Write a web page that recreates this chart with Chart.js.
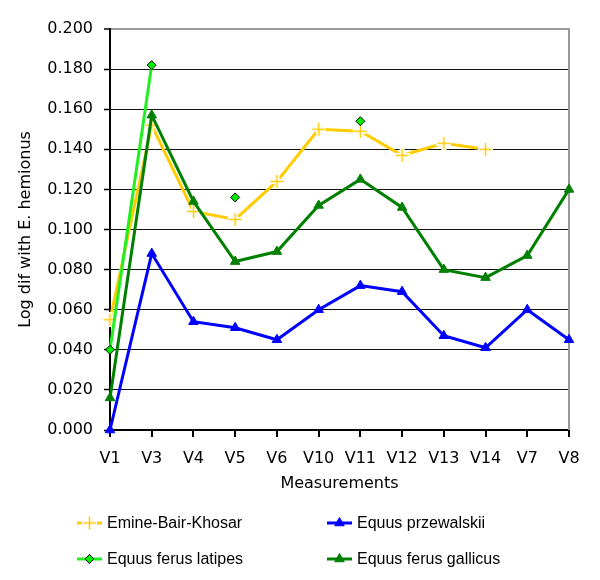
<!DOCTYPE html>
<html>
<head>
<meta charset="utf-8">
<script src="https://cdn.jsdelivr.net/npm/chart.js@4/dist/chart.umd.min.js"></script>
<style>
  body { margin: 0; background: #fff; }
  canvas { display: block; }
</style>
</head>
<body>
<canvas id="myChart" width="600" height="580"></canvas>
<script>
// values
const categories = ['V1', 'V3', 'V4', 'V5', 'V6', 'V10', 'V11', 'V12', 'V13', 'V14', 'V7', 'V8'];
const emine = [0.055, 0.152, 0.109, 0.105, 0.124, 0.150, 0.149, 0.137, 0.143, 0.140, null, null];
const przewalskii = [0.000, 0.088, 0.054, 0.051, 0.045, 0.060, 0.072, 0.069, 0.047, 0.041, 0.060, 0.045];
const latipes = [0.040, 0.182, null, 0.116, null, null, 0.154, null, null, null, null, null];
const gallicus = [0.016, 0.157, 0.114, 0.084, 0.089, 0.112, 0.125, 0.111, 0.080, 0.076, 0.087, 0.120];
const seriesNames = ['Emine-Bair-Khosar', 'Equus przewalskii', 'Equus ferus latipes', 'Equus ferus gallicus'];

const YELLOW = '#ffcc00', BLUE = '#0000ff', LIME = '#22ee22', DARK = '#008000';

// yellow "+" marker with a white halo, like the original
function crossMarker(color) {
    const c = document.createElement('canvas');
    c.width = 15; c.height = 15;
    const g = c.getContext('2d');
    g.fillStyle = '#fff';
    g.fillRect(5, 0, 5, 15);
    g.fillRect(0, 5, 15, 5);
    g.strokeStyle = color;
    g.lineWidth = 1.5;
    g.beginPath();
    g.moveTo(7.5, 1); g.lineTo(7.5, 14);
    g.moveTo(1, 7.5); g.lineTo(14, 7.5);
    g.stroke();
    return c;
}
const cross = crossMarker(YELLOW);

Chart.defaults.font.family = 'DejaVu Sans';
Chart.defaults.font.size = 16;
Chart.defaults.color = '#000';

const datasets = [
    {label: seriesNames[0], data: emine, borderColor: YELLOW, backgroundColor: YELLOW,
     pointStyle: cross, pointRadius: 7, order: 3},
    {label: seriesNames[1], data: przewalskii, borderColor: BLUE, backgroundColor: BLUE,
     pointStyle: 'triangle', pointRadius: 5.5, pointBorderWidth: 1, order: 2},
    {label: seriesNames[2], data: latipes, borderColor: LIME, backgroundColor: '#00ee00',
     pointBorderColor: '#000', pointStyle: 'rectRot', pointRadius: 4.5, pointBorderWidth: 1, order: 1},
    {label: seriesNames[3], data: gallicus, borderColor: DARK, backgroundColor: DARK,
     pointStyle: 'triangle', pointRadius: 5.5, pointBorderWidth: 1, order: 0}
];
datasets.forEach(d => { d.borderWidth = 3; d.clip = false; d.tension = 0; d.spanGaps = false; });

// right frame line + two-column legend
const framePlugin = {
    id: 'frame',
    beforeDatasetsDraw(chart) {
        const {ctx, chartArea: a} = chart;
        ctx.save();
        ctx.strokeStyle = '#999';
        ctx.lineWidth = 2;
        ctx.beginPath();
        ctx.moveTo(a.right, a.top - 1);
        ctx.lineTo(a.right, a.bottom);
        ctx.stroke();
        ctx.restore();
    },
    afterDraw(chart) {
        const ctx = chart.ctx;
        const cols = [77, 327], rows = [523, 559];
        ctx.save();
        datasets.forEach((d, i) => {
            const x = cols[i % 2], y = rows[Math.floor(i / 2)];
            ctx.strokeStyle = d.borderColor;
            ctx.lineWidth = 3;
            ctx.beginPath();
            ctx.moveTo(x, y); ctx.lineTo(x + 25, y);
            ctx.stroke();
            ctx.fillStyle = d.backgroundColor;
            ctx.strokeStyle = d.pointBorderColor || d.borderColor;
            ctx.lineWidth = d.pointBorderWidth || 1;
            Chart.helpers.drawPoint(ctx, {pointStyle: d.pointStyle, radius: d.pointRadius,
                rotation: 0, borderWidth: d.pointBorderWidth || 1}, x + 12.5, y);
            ctx.fillStyle = '#000';
            ctx.font = '16px "Liberation Sans"';
            ctx.textBaseline = 'middle';
            ctx.textAlign = 'left';
            ctx.fillText(d.label, x + 30, y + 1);
        });
        ctx.restore();
    }
};

new Chart(document.getElementById('myChart'), {
    type: 'line',
    data: {labels: categories, datasets: datasets},
    plugins: [framePlugin],
    options: {
        responsive: false,
        animation: false,
        layout: {padding: {left: 0, right: 31, top: 29, bottom: 80}},
        plugins: {legend: {display: false}, tooltip: {enabled: false}},
        scales: {
            x: {
                offset: false,
                afterFit: s => { s.height = 70; },
                grid: {drawOnChartArea: false, tickLength: 7, color: '#000', lineWidth: 2},
                border: {color: '#000', width: 2},
                ticks: {maxRotation: 0, autoSkip: false, padding: 12},
                title: {display: true, text: 'Measurements', padding: {top: 0, bottom: 7}}
            },
            y: {
                min: 0,
                max: 0.2,
                afterFit: s => { s.width = 110; },
                grid: {
                    color: c => c.tick && c.tick.value >= 0.2 ? '#999' : '#111',
                    lineWidth: c => c.tick && c.tick.value >= 0.2 ? 2 : 1,
                    tickColor: '#000', tickWidth: 1.5, tickLength: 6
                },
                border: {color: '#000', width: 2},
                ticks: {stepSize: 0.02, padding: 11, callback: v => v.toFixed(3)},
                title: {display: true, text: 'Log dif with E. hemionus', padding: {top: 16, bottom: 0}}
            }
        }
    }
});
</script>
</body>
</html>
